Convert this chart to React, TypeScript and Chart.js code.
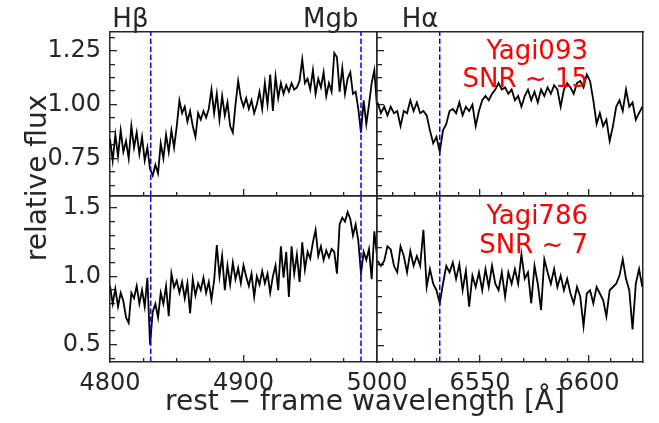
import React, { useEffect, useRef } from 'react';
import { Chart, registerables } from 'chart.js';

Chart.register(...registerables);

const W = 659;
const H = 423;
const FONT = '"DejaVu Sans", "Liberation Sans", sans-serif';
const TEXT = '#262626';
const SPINE = '#262626';

// ---- sampling of the spectra (rest-frame wavelength, Angstrom) ----
const leftWaveStart = 4800;
const leftWaveStep = 2;
const rightWaveStart = 6503;
const rightWaveStep = 1.5;

// ---- relative flux values ----
const topLeftFlux = [
  0.84, 0.74, 0.86, 0.76, 0.88, 0.78, 0.83, 0.75, 0.90, 0.80,
  0.87, 0.77, 0.85, 0.74, 0.80, 0.70, 0.67, 0.72, 0.68, 0.82,
  0.75, 0.86, 0.78, 0.88, 0.80, 0.90, 1.02, 0.96, 0.99, 0.92,
  0.97, 0.90, 0.85, 0.96, 0.93, 0.97, 0.94, 0.98, 1.07, 0.96,
  1.05, 0.93, 1.04, 0.95, 1.01, 0.90, 0.87, 1.00, 1.11, 1.03,
  0.99, 1.03, 0.98, 1.02, 0.96, 1.00, 1.06, 0.98, 1.10, 1.00,
  1.14, 0.97, 1.13, 1.03, 1.10, 1.05, 1.09, 1.06, 1.10, 1.07,
  1.08, 1.11, 1.21, 1.10, 1.12, 1.07, 1.16, 1.05, 1.12, 1.08,
  1.15, 1.04, 1.10, 1.06, 1.24, 1.22, 1.06, 1.17, 1.05, 1.12,
  1.15, 1.05, 1.06, 0.98, 0.87, 1.02, 0.91, 1.00, 1.10, 1.16,
  0.99,
];

const bottomLeftFlux = [
  0.93, 0.80, 0.91, 0.78, 0.88, 0.82, 0.70, 0.66, 0.88, 0.84,
  0.93, 0.80, 0.90, 0.78, 0.99, 0.50, 0.74, 0.80, 0.70, 0.88,
  0.80, 0.93, 0.71, 1.02, 0.92, 0.97, 0.88, 0.96, 0.84, 0.95,
  0.73, 0.98, 0.86, 0.95, 0.90, 0.99, 0.88, 0.96, 0.83, 0.97,
  1.23, 1.00, 1.15, 0.90, 1.08, 0.94, 1.10, 0.98, 1.06, 0.95,
  1.08, 1.00, 0.93, 1.02, 0.85, 1.00, 0.94, 1.04, 0.95, 1.02,
  0.88, 1.00, 1.08, 0.90, 1.22, 0.99, 1.18, 0.85, 1.22, 1.02,
  1.16, 0.96, 1.25, 1.05, 1.18, 1.13, 1.25, 1.34, 1.15, 1.22,
  1.12, 1.19, 1.14, 1.20, 1.18, 1.02, 1.38, 1.43, 1.40, 1.47,
  1.42, 1.30, 1.38, 1.26, 1.02, 1.18, 1.12, 1.20, 0.98, 1.33,
  1.15,
];

const topRightFlux = [
  1.01, 0.96, 0.99, 0.95, 0.99, 0.96, 0.97, 0.90, 0.97, 0.96,
  1.02, 0.97, 1.01, 0.96, 0.97, 0.95, 0.88, 0.82, 0.85, 0.78,
  0.88, 0.91, 0.97, 0.98, 0.96, 1.01, 0.95, 0.99, 0.97, 1.00,
  0.90, 0.97, 1.02, 1.04, 1.02, 1.05, 1.07, 1.10, 1.07, 1.08,
  1.05, 1.07, 1.02, 1.04, 0.99, 1.04, 1.07, 1.02, 1.06, 1.01,
  1.07, 1.04, 1.08, 1.05, 1.09, 1.07, 0.99, 1.07, 1.10, 1.08,
  1.05, 1.10, 1.11, 1.08, 1.14, 1.11, 1.02, 0.91, 0.96, 0.90,
  0.93, 0.83, 0.90, 0.99, 1.02, 0.97, 1.07, 0.99, 1.01, 0.93,
  0.96, 0.99,
];

const bottomRightFlux = [
  1.02, 0.99, 1.02, 1.11, 1.09, 0.99, 0.95, 1.11, 1.05, 0.95,
  1.08, 0.99, 1.05, 0.99, 1.21, 0.86, 0.97, 0.88, 0.84, 0.76,
  0.88, 0.99, 0.95, 1.01, 0.91, 1.00, 0.84, 0.96, 0.74, 0.93,
  0.86, 0.95, 0.84, 0.97, 0.86, 0.99, 0.88, 0.84, 0.95, 0.80,
  0.95, 0.88, 0.97, 0.88, 1.06, 0.91, 0.95, 0.76, 0.99, 0.88,
  0.72, 1.03, 0.95, 0.88, 0.97, 0.86, 0.93, 0.84, 0.91, 0.82,
  0.76, 0.86, 0.80, 0.62, 0.82, 0.84, 0.76, 0.86, 0.82, 0.78,
  0.68, 0.84, 0.86, 0.88, 0.93, 1.03, 0.91, 0.84, 0.60, 0.88,
  0.97, 0.86,
];

// ---- marked spectral features ----
const lineHbeta = 4830.5;
const lineMgb = 4988;
const lineHalpha = 6531.5;

// ---- axis ranges ----
const leftRange = [4800, 5000];
const rightRange = [6502.7, 6624.8];
const topRange = [0.575, 1.3375];
const bottomLeftRange = [0.374, 1.588];
const bottomRightRange = [0.4, 1.418];

// ---- ticks ----
const leftMajorX = [4800, 4900, 5000];
const leftMinorX = [4825, 4850, 4875, 4925, 4950, 4975];
const rightMajorX = [6550, 6600];
const rightMinorX = [6510, 6520, 6530, 6540, 6560, 6570, 6580, 6590, 6610, 6620];
const topMajorY = [0.75, 1.0, 1.25];
const topMinorY = [0.625, 0.6875, 0.8125, 0.875, 0.9375, 1.0625, 1.125, 1.1875, 1.3125];
const bottomLeftMajorY = [0.5, 1.0, 1.5];
const bottomLeftMinorY = [0.4, 0.6, 0.7, 0.8, 0.9, 1.1, 1.2, 1.3, 1.4];
const bottomRightMajorY = [0.5, 1.0];
const bottomRightMinorY = [0.4, 0.6, 0.7, 0.8, 0.9, 1.1, 1.2, 1.3, 1.4];

type Rect = { left: number; top: number; right: number; bottom: number };
type PanelCfg = {
  key: string;
  rect: Rect;
  xRange: number[];
  yRange: number[];
  waveStart: number;
  waveStep: number;
  flux: number[];
  marks: number[];
  xMajor: number[];
  xMinor: number[];
  yMajor: number[];
  yMinor: number[];
  xLabel: ((v: number) => string) | null;
  yLabel: ((v: number) => string) | null;
};

const panels: PanelCfg[] = [
  {
    key: 'tl', rect: { left: 110, top: 32, right: 377, bottom: 196 },
    xRange: leftRange, yRange: topRange, waveStart: leftWaveStart, waveStep: leftWaveStep,
    flux: topLeftFlux, marks: [lineHbeta, lineMgb],
    xMajor: leftMajorX, xMinor: leftMinorX, yMajor: topMajorY, yMinor: topMinorY,
    xLabel: null, yLabel: (v) => v.toFixed(2),
  },
  {
    key: 'tr', rect: { left: 377, top: 32, right: 643, bottom: 196 },
    xRange: rightRange, yRange: topRange, waveStart: rightWaveStart, waveStep: rightWaveStep,
    flux: topRightFlux, marks: [lineHalpha],
    xMajor: rightMajorX, xMinor: rightMinorX, yMajor: topMajorY, yMinor: topMinorY,
    xLabel: null, yLabel: null,
  },
  {
    key: 'bl', rect: { left: 110, top: 196, right: 377, bottom: 362 },
    xRange: leftRange, yRange: bottomLeftRange, waveStart: leftWaveStart, waveStep: leftWaveStep,
    flux: bottomLeftFlux, marks: [lineHbeta, lineMgb],
    xMajor: leftMajorX, xMinor: leftMinorX, yMajor: bottomLeftMajorY, yMinor: bottomLeftMinorY,
    xLabel: (v) => String(v), yLabel: (v) => v.toFixed(1),
  },
  {
    key: 'br', rect: { left: 377, top: 196, right: 643, bottom: 362 },
    xRange: rightRange, yRange: bottomRightRange, waveStart: rightWaveStart, waveStep: rightWaveStep,
    flux: bottomRightFlux, marks: [lineHalpha],
    xMajor: rightMajorX, xMinor: rightMinorX, yMajor: bottomRightMajorY, yMinor: bottomRightMinorY,
    xLabel: (v) => String(v), yLabel: null,
  },
];

// room reserved for tick labels (the axis box must contain them, Chart.js clips labels to it)
const Y_LABEL_BOX = 100;
const X_LABEL_BOX = 48;

function tickScale(
  axis: 'x' | 'y', position: string, range: number[], values: number[], len: number,
  labelFn: ((v: number) => string) | null, padding: number, showBorder: boolean,
  boxSize: number, weight: number,
) {
  return {
    type: 'linear',
    position,
    weight,
    min: range[0],
    max: range[1],
    display: true,
    afterFit: (s: any) => { if (axis === 'x') s.height = boxSize; else s.width = boxSize; },
    afterBuildTicks: (s: any) => { s.ticks = values.map((v) => ({ value: v })); },
    grid: {
      display: true, drawOnChartArea: false, drawTicks: true, tickLength: -len,
      color: SPINE, tickColor: SPINE, tickWidth: 1.3, lineWidth: 1.3,
    },
    border: { display: showBorder, color: SPINE, width: 1.5 },
    ticks: {
      autoSkip: false, maxRotation: 0, minRotation: 0, padding,
      color: TEXT, font: { family: FONT, size: 24 },
      callback: (v: any) => (labelFn ? labelFn(Number(v)) : ''),
    },
  };
}

function frameScale(axis: 'x' | 'y', position: string, range: number[]) {
  return {
    type: 'linear',
    position,
    min: range[0],
    max: range[1],
    display: true,
    afterFit: (s: any) => { if (axis === 'x') s.height = 0; else s.width = 0; },
    grid: { display: false, drawTicks: false, drawOnChartArea: false },
    ticks: { display: false },
    border: { display: true, color: SPINE, width: 1.5 },
  };
}

function PanelChart({ cfg }: { cfg: PanelCfg }) {
  const ref = useRef<HTMLCanvasElement>(null);
  useEffect(() => {
    const spectrum = cfg.flux.map((f, i) => ({ x: cfg.waveStart + i * cfg.waveStep, y: f }));
    const markSets = cfg.marks.map((m) => ({
      data: [{ x: m, y: cfg.yRange[0] }, { x: m, y: cfg.yRange[1] }],
      borderColor: '#0000ff',
      borderWidth: 1.5,
      borderDash: [5.5, 2.5],
      pointRadius: 0,
      order: 0,
    }));
    const yBox = cfg.yLabel ? Y_LABEL_BOX : 0;
    const xBox = cfg.xLabel ? X_LABEL_BOX : 0;
    const chart = new Chart(ref.current as HTMLCanvasElement, {
      type: 'line',
      data: {
        datasets: [
          ...markSets,
          {
            data: spectrum,
            borderColor: '#000000',
            borderWidth: 1.8,
            pointRadius: 0,
            tension: 0,
            order: 1,
          },
        ] as any,
      },
      options: {
        animation: false,
        responsive: false,
        devicePixelRatio: 1,
        events: [],
        layout: {
          autoPadding: false,
          padding: {
            left: cfg.rect.left - yBox,
            top: cfg.rect.top,
            right: W - cfg.rect.right,
            bottom: H - cfg.rect.bottom - xBox,
          },
        },
        plugins: { legend: { display: false }, tooltip: { enabled: false } },
        scales: {
          x: tickScale('x', 'bottom', cfg.xRange, cfg.xMajor, 7, cfg.xLabel, 14, true, xBox, 2),
          xm: tickScale('x', 'bottom', cfg.xRange, cfg.xMinor, 4, null, 0, false, 0, 0),
          xt: frameScale('x', 'top', cfg.xRange),
          y: tickScale('y', 'left', cfg.yRange, cfg.yMajor, 7, cfg.yLabel, 16, true, yBox, 2),
          ym: tickScale('y', 'left', cfg.yRange, cfg.yMinor, 5, null, 0, false, 0, 0),
          yr: frameScale('y', 'right', cfg.yRange),
        },
      } as any,
    });
    return () => chart.destroy();
  }, [cfg]);
  return (
    <canvas
      ref={ref}
      width={W}
      height={H}
      style={{ position: 'absolute', left: 0, top: 0, width: W, height: H }}
    />
  );
}

type Label = { text: string; right: number; baseline: number; size: number; color: string };

const featureLabels: Label[] = [
  { text: 'Hβ', right: 148.5, baseline: 27, size: 26, color: TEXT },
  { text: 'Mgb', right: 358.5, baseline: 27, size: 26, color: TEXT },
  { text: 'Hα', right: 438.5, baseline: 27, size: 26, color: TEXT },
];

const objectLabels: Label[] = [
  { text: 'Yagi093', right: 588, baseline: 59, size: 26, color: '#ff0000' },
  { text: 'SNR ~ 15', right: 588, baseline: 87, size: 26, color: '#ff0000' },
  { text: 'Yagi786', right: 588, baseline: 224, size: 26, color: '#ff0000' },
  { text: 'SNR ~ 7', right: 588, baseline: 253, size: 26, color: '#ff0000' },
];

const xTitle = 'rest − frame wavelength [Å]';
const yTitle = 'relative flux';

function TextLabel({ l }: { l: Label }) {
  return (
    <div
      style={{
        position: 'absolute',
        right: W - l.right,
        top: l.baseline - 0.846 * l.size,
        fontSize: l.size,
        lineHeight: `${l.size}px`,
        color: l.color,
        whiteSpace: 'nowrap',
        fontFamily: FONT,
      }}
    >
      {l.text}
    </div>
  );
}

export default function App() {
  const titleSize = 28;
  const yCenterX = 37;
  const yCenterY = 178;
  return (
    <div
      style={{
        position: 'absolute', left: 0, top: 0, width: W, height: H,
        background: '#ffffff', overflow: 'hidden', fontFamily: FONT,
      }}
    >
      {panels.map((p) => <PanelChart key={p.key} cfg={p} />)}
      {featureLabels.map((l) => <TextLabel key={l.text} l={l} />)}
      {objectLabels.map((l) => <TextLabel key={l.text + l.baseline} l={l} />)}
      <div
        style={{
          position: 'absolute', left: 365 - 300, width: 600, textAlign: 'center',
          top: 411 - 0.846 * titleSize, fontSize: titleSize, lineHeight: `${titleSize}px`,
          color: TEXT, whiteSpace: 'nowrap',
        }}
      >
        {xTitle}
      </div>
      <div
        style={{
          position: 'absolute', left: yCenterX - 150, top: yCenterY - titleSize / 2,
          width: 300, height: titleSize, textAlign: 'center', fontSize: titleSize,
          lineHeight: `${titleSize}px`, color: TEXT, whiteSpace: 'nowrap',
          transform: 'rotate(-90deg)', transformOrigin: 'center center',
        }}
      >
        {yTitle}
      </div>
    </div>
  );
}
